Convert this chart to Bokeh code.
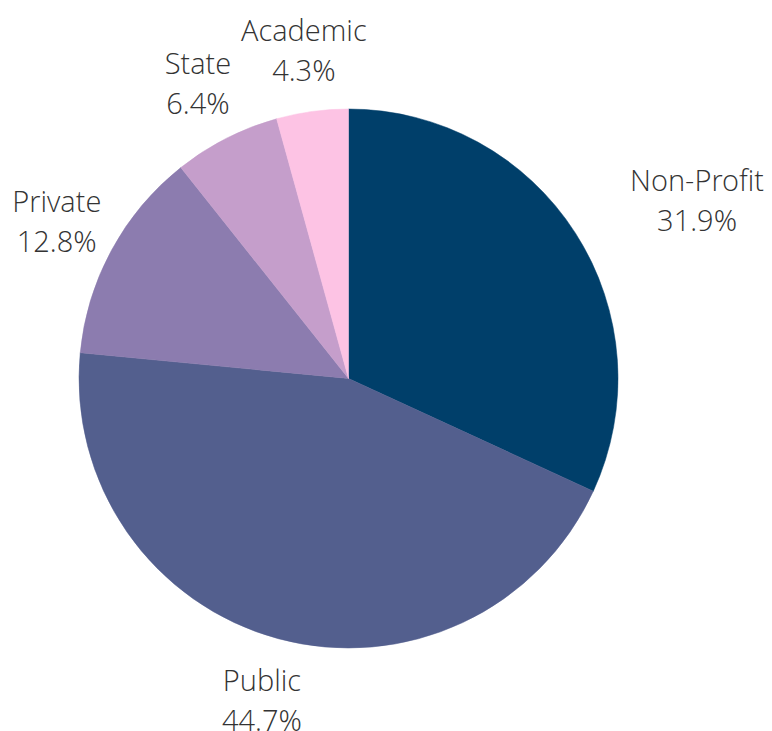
import math
from bokeh.plotting import figure
from bokeh.models import Range1d, ColumnDataSource
from bokeh.core.properties import value
from bokeh.embed import file_html
from bokeh.resources import INLINE

categories = ["Non-Profit", "Public", "Private", "State", "Academic"]
shares = [31.9, 44.7, 12.8, 6.4, 4.3]
colors = ["#003f6a", "#535f8e", "#8c7caf", "#c59ecb", "#fdc3e4"]

W, H = 772, 731
cx, cy, r = 348, H - 378, 269.5
label_r = 332

total = sum(shares)
starts, ends, lx, ly, xoff, pct = [], [], [], [], [], []
cum = 0.0
for s in shares:
    a0 = math.pi / 2 - 2 * math.pi * cum / total
    cum += s
    a1 = math.pi / 2 - 2 * math.pi * cum / total
    starts.append(a0)
    ends.append(a1)
    mid = (a0 + a1) / 2
    lx.append(cx + label_r * math.cos(mid))
    ly.append(cy + label_r * math.sin(mid))
    xoff.append(69 if math.cos(mid) > 0.3 else 0)
    pct.append(f"{s:.1f}%")

src = ColumnDataSource(dict(cat=categories, start=starts, end=ends, color=colors,
                            lx=lx, ly=ly, xoff=xoff, pct=pct))

p = figure(width=W, height=H, x_range=Range1d(0, W), y_range=Range1d(0, H),
           output_backend="svg", toolbar_location=None, min_border=0)
p.axis.visible = False
p.grid.visible = False
p.outline_line_color = None
p.background_fill_color = "white"

p.wedge(x=cx, y=cy, radius=r, start_angle="start", end_angle="end", direction="clock",
        fill_color="color", line_color="color", line_width=0.5, source=src)

common = dict(text_font=value("Open Sans Light, Open Sans"), text_font_size="29px",
              text_color="#333333",
              text_align="center", text_baseline="middle", x_offset="xoff", source=src)
p.text(x="lx", y="ly", text="cat", y_offset=-20, **common)
p.text(x="lx", y="ly", text="pct", y_offset=20, **common)

open("out.html", "w").write(file_html(p, INLINE))
